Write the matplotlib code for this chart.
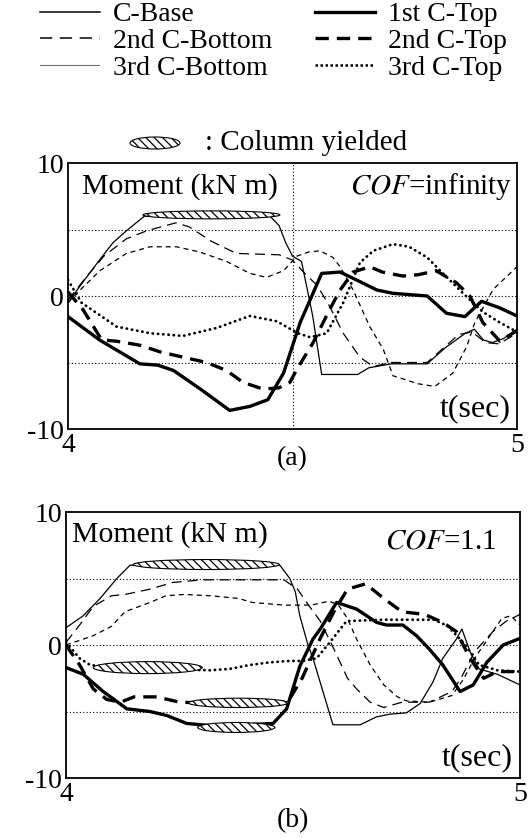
import matplotlib.pyplot as plt
from matplotlib.lines import Line2D
from matplotlib.patches import Ellipse

plt.rcParams['font.family'] = ['Liberation Serif', 'DejaVu Serif']
plt.rcParams['mathtext.fontset'] = 'stix'
plt.rcParams['axes.unicode_minus'] = False
plt.rcParams['hatch.linewidth'] = 0.9

# ---------------- panel (a): COF = infinity ----------------
a_base_t = [4.00, 4.03, 4.07, 4.10, 4.13, 4.17, 4.30, 4.45, 4.47, 4.485, 4.50, 4.52, 4.545, 4.565, 4.645,
            4.67, 4.72, 4.80, 4.84, 4.885, 4.905, 4.925, 4.945, 4.97, 5.00]
a_base_y = [-0.5, 0.9, 2.7, 4.0, 4.9, 6.0, 6.0, 6.0, 5.3, 4.0, 3.0, 2.6, -1.5, -5.9, -5.9,
            -5.4, -5.1, -5.1, -3.9, -2.8, -2.5, -3.3, -3.5, -3.2, -2.5]

a_top1_t = [4.00, 4.07, 4.16, 4.20, 4.235, 4.295, 4.36, 4.405, 4.445, 4.48, 4.517, 4.543, 4.565, 4.606,
            4.643, 4.688, 4.724, 4.80, 4.843, 4.884, 4.921, 4.962, 5.00]
a_top1_y = [-1.55, -3.3, -5.1, -5.2, -5.6, -7.0, -8.6, -8.3, -7.8, -5.8, -2.0, 0.0, 1.7, 1.8,
            1.2, 0.45, 0.2, 0.0, -1.3, -1.55, -0.4, -0.9, -1.5]

a_bot2_t = [4.00, 4.04, 4.08, 4.13, 4.175, 4.24, 4.27, 4.32, 4.375, 4.47, 4.50, 4.53, 4.555, 4.583,
            4.613, 4.65, 4.68, 4.72, 4.80, 4.84, 4.87, 4.90, 4.93, 4.96, 5.00]
a_bot2_y = [-0.3, 1.4, 3.0, 4.3, 4.9, 5.5, 5.2, 4.1, 3.2, 3.1, 2.7, 1.6, 0.8, -0.8,
            -2.8, -4.6, -5.3, -5.0, -5.0, -3.8, -2.9, -2.7, -3.5, -3.6, -2.8]

a_top2_t = [4.00, 4.033, 4.075, 4.108, 4.16, 4.205, 4.256, 4.309, 4.353, 4.39, 4.435, 4.47, 4.494, 4.51,
            4.546, 4.583, 4.606, 4.635, 4.672, 4.70, 4.746, 4.78, 4.82, 4.865, 4.895, 4.924, 4.962, 5.00]
a_top2_y = [0.3, -1.0, -3.3, -3.4, -3.7, -4.2, -4.6, -5.0, -5.6, -6.5, -7.0, -6.9, -6.5, -5.5,
            -3.5, -1.0, 0.45, 1.8, 2.2, 1.8, 1.5, 1.6, 1.9, 1.0, 0.0, -2.0, -3.4, -2.6]

a_bot3_t = [4.00, 4.027, 4.071, 4.13, 4.183, 4.242, 4.294, 4.353, 4.405, 4.442, 4.48, 4.51, 4.535, 4.561,
            4.59, 4.606, 4.635, 4.672, 4.702, 4.724, 4.78, 4.817, 4.857, 4.888, 4.906, 4.947, 5.00]
a_bot3_y = [-0.5, 0.45, 1.9, 3.2, 3.7, 3.7, 3.3, 2.6, 1.7, 1.4, 1.9, 3.0, 3.3, 3.4,
            2.9, 2.2, 0.45, -2.3, -4.0, -6.0, -6.6, -6.8, -5.8, -3.8, -2.0, 0.5, 2.2]

a_top3_t = [4.00, 4.03, 4.108, 4.183, 4.256, 4.331, 4.405, 4.465, 4.512, 4.539, 4.576, 4.613, 4.65, 4.68,
            4.724, 4.76, 4.80, 4.835, 4.88, 4.924, 4.962, 5.00]
a_top3_y = [1.2, -0.5, -2.3, -2.8, -3.0, -2.4, -1.5, -1.9, -2.8, -3.1, -2.8, -0.5, 2.5, 3.4,
            3.9, 3.7, 2.9, 1.7, 0.2, -1.2, -2.0, -2.7]

# yielded regions: (t start, t end, moment, height)
a_yield = [(4.167, 4.472, 6.1, 0.6)]

# ---------------- panel (b): COF = 1.1 ----------------
b_base_t = [4.00, 4.038, 4.075, 4.112, 4.141, 4.30, 4.471, 4.493, 4.505, 4.515, 4.533, 4.544, 4.588, 4.648,
            4.684, 4.714, 4.75, 4.78, 4.808, 4.83, 4.86, 4.872, 4.89, 4.91, 4.95, 5.00]
b_base_y = [1.3, 2.2, 3.5, 5.0, 6.0, 6.0, 6.0, 5.0, 4.0, 2.2, 0.0, -1.0, -6.0, -6.0,
            -5.4, -5.2, -5.1, -4.4, -2.8, -1.0, 0.45, 1.2, -0.5, -1.8, -2.2, -3.0]

b_top1_t = [4.00, 4.038, 4.082, 4.134, 4.185, 4.222, 4.266, 4.332, 4.456, 4.486, 4.515, 4.544, 4.56, 4.596,
            4.64, 4.684, 4.706, 4.742, 4.772, 4.80, 4.83, 4.868, 4.897, 4.927, 4.963, 5.00]
b_top1_y = [-1.7, -2.2, -3.5, -4.8, -5.0, -5.3, -5.9, -6.1, -5.9, -4.8, -1.6, 0.45, 1.2, 3.2,
            2.7, 1.7, 1.5, 1.5, 0.7, -0.3, -1.5, -3.5, -3.0, -1.3, 0.0, 0.5]

b_bot2_t = [4.00, 4.03, 4.06, 4.10, 4.13, 4.185, 4.235, 4.30, 4.40, 4.48, 4.51, 4.53, 4.56, 4.59,
            4.62, 4.64, 4.67, 4.70, 4.74, 4.80, 4.85, 4.87, 4.90, 4.94, 4.97, 5.00]
b_bot2_y = [0.2, 1.5, 2.9, 3.7, 3.8, 4.2, 4.7, 4.9, 4.9, 4.9, 4.2, 3.2, 1.8, -0.3,
            -2.5, -3.3, -4.3, -4.7, -4.3, -4.3, -3.5, -2.5, -0.5, 1.0, 1.8, 2.3]

b_top2_t = [4.00, 4.03, 4.06, 4.09, 4.12, 4.15, 4.20, 4.25, 4.35, 4.45, 4.49, 4.52, 4.56, 4.59,
            4.62, 4.66, 4.70, 4.74, 4.79, 4.83, 4.86, 4.89, 4.92, 4.95, 5.00]
b_top2_y = [0.0, -1.5, -3.3, -4.1, -4.3, -3.9, -3.9, -4.3, -4.4, -4.4, -4.2, -2.5, 0.5, 2.5,
            4.2, 4.6, 3.5, 2.5, 2.3, 1.7, 1.0, -1.0, -2.5, -2.0, -2.0]

b_bot3_t = [4.00, 4.06, 4.10, 4.13, 4.185, 4.22, 4.26, 4.32, 4.38, 4.41, 4.48, 4.54, 4.58, 4.60,
            4.62, 4.64, 4.67, 4.70, 4.73, 4.75, 4.80, 4.85, 4.875, 4.90, 4.93, 4.96, 4.98, 5.00]
b_bot3_y = [0.0, 0.7, 1.4, 2.5, 3.2, 3.7, 3.8, 3.7, 3.5, 3.2, 3.0, 3.0, 3.3, 3.0,
            2.0, 0.45, -1.5, -3.0, -3.9, -4.2, -4.3, -3.8, -2.6, -1.0, 0.5, 2.0, 2.2, 1.5]

b_top3_t = [4.00, 4.03, 4.053, 4.10, 4.20, 4.317, 4.36, 4.405, 4.45, 4.493, 4.52, 4.552, 4.581, 4.618,
            4.70, 4.81, 4.84, 4.88, 4.91, 4.95, 5.00]
b_top3_y = [0.2, -1.0, -1.5, -1.7, -1.8, -1.9, -1.8, -1.5, -1.3, -1.2, -1.2, -1.0, 0.2, 1.8,
            1.9, 1.9, 1.45, 0.0, -1.5, -1.9, -2.0]

b_yield = [(4.148, 4.470, 6.05, 0.75), (4.06, 4.30, -1.7, 0.9),
           (4.27, 4.49, -4.35, 0.7), (4.29, 4.46, -6.2, 0.75)]

names = ['C-Base', '1st C-Top', '2nd C-Bottom', '2nd C-Top', '3rd C-Bottom', '3rd C-Top']
styles = {
    'C-Base':       dict(lw=0.9, ls='-'),
    '1st C-Top':    dict(lw=2.4, ls='-'),
    '2nd C-Bottom': dict(lw=0.9, ls=(0, (8, 4.8))),
    '2nd C-Top':    dict(lw=2.4, ls=(0, (4, 2.4))),
    '3rd C-Bottom': dict(lw=0.9, ls=(0, (4, 3.2))),
    '3rd C-Top':    dict(lw=2.0, ls=(0, (0.1, 1.8)), dash_capstyle='round'),
}

panels = [
    dict(series=[(a_base_t, a_base_y), (a_top1_t, a_top1_y), (a_bot2_t, a_bot2_y),
                 (a_top2_t, a_top2_y), (a_bot3_t, a_bot3_y), (a_top3_t, a_top3_y)],
         yld=a_yield, cof='infinity', tag='(a)', tag_y=-0.11, vgrid=True,
         rect=[68 / 532, 409 / 838, 449 / 532, 266 / 838],
         moment_xy=(0.031, 0.913), cof_xy=(0.989, 0.913)),
    dict(series=[(b_base_t, b_base_y), (b_top1_t, b_top1_y), (b_bot2_t, b_bot2_y),
                 (b_top2_t, b_top2_y), (b_bot3_t, b_bot3_y), (b_top3_t, b_top3_y)],
         yld=b_yield, cof='1.1', tag='(b)', tag_y=-0.16, vgrid=False,
         rect=[66 / 532, 60 / 838, 454 / 532, 266 / 838],
         moment_xy=(0.013, 0.915), cof_xy=(0.949, 0.89)),
]

fig = plt.figure(figsize=(5.32, 8.38), dpi=100)

for p in panels:
    ax = fig.add_axes(p['rect'])
    for gy in [-5, 0, 5]:
        ax.axhline(gy, color='k', lw=0.8, ls=(0, (1, 2)), zorder=1)
    if p['vgrid']:
        ax.axvline(4.5, color='k', lw=0.8, ls=(0, (1, 2)), zorder=1)
    for name, (t, y) in zip(names, p['series']):
        ax.plot(t, y, color='k', zorder=3, **styles[name])
    for t0, t1, m, h in p['yld']:
        ax.add_patch(Ellipse(((t0 + t1) / 2, m), t1 - t0, h, facecolor='white',
                             edgecolor='k', lw=0.8, hatch='\\\\\\\\', zorder=4))
    ax.set_xlim(4, 5)
    ax.set_ylim(-10, 10)
    ax.set_xticks([4, 5])
    ax.set_yticks([-10, 0, 10])
    ax.tick_params(length=0, labelsize=20, pad=3)
    for s in ax.spines.values():
        s.set_linewidth(1.3)
    ax.text(*p['moment_xy'], 'Moment (kN m)', transform=ax.transAxes, fontsize=21.5,
            ha='left', va='center')
    ax.text(*p['cof_xy'], '$COF$=' + p['cof'], transform=ax.transAxes, fontsize=21,
            ha='right', va='center')
    ax.text(0.985, 0.075, 't(sec)', transform=ax.transAxes, fontsize=23,
            ha='right', va='center')
    ax.text(0.5, p['tag_y'], p['tag'], transform=ax.transAxes, fontsize=20,
            ha='center', va='center')

# legend (two columns placed separately)
leg_style = {
    'C-Base':       dict(lw=1.1, ls='-'),
    '1st C-Top':    dict(lw=2.4, ls='-'),
    '2nd C-Bottom': dict(lw=1.1, ls=(0, (8, 5))),
    '2nd C-Top':    dict(lw=2.4, ls=(0, (4, 2.4))),
    '3rd C-Bottom': dict(lw=0.8, ls=(0, (1, 0.8))),
    '3rd C-Top':    dict(lw=1.8, ls=(0, (1, 1))),
}
for col, x0 in [(['C-Base', '2nd C-Bottom', '3rd C-Bottom'], 40),
                (['1st C-Top', '2nd C-Top', '3rd C-Top'], 315)]:
    handles = [Line2D([], [], color='k', **leg_style[n]) for n in col]
    fig.legend(handles, col, loc='upper left', bbox_to_anchor=(x0 / 532, 1 - 2 / 838),
               frameon=False, fontsize=20, handlelength=2.15, handletextpad=0.48,
               labelspacing=0.04, borderpad=0, borderaxespad=0)

fig.add_artist(Ellipse((155 / 532, 1 - 143 / 838), 50 / 532, 12 / 838,
                       transform=fig.transFigure, facecolor='white', edgecolor='k',
                       lw=0.8, hatch='\\\\\\\\'))
fig.text(205 / 532, 1 - 143 / 838, ': Column yielded', fontsize=21, ha='left', va='center')

fig.savefig('out.png', dpi=100)
